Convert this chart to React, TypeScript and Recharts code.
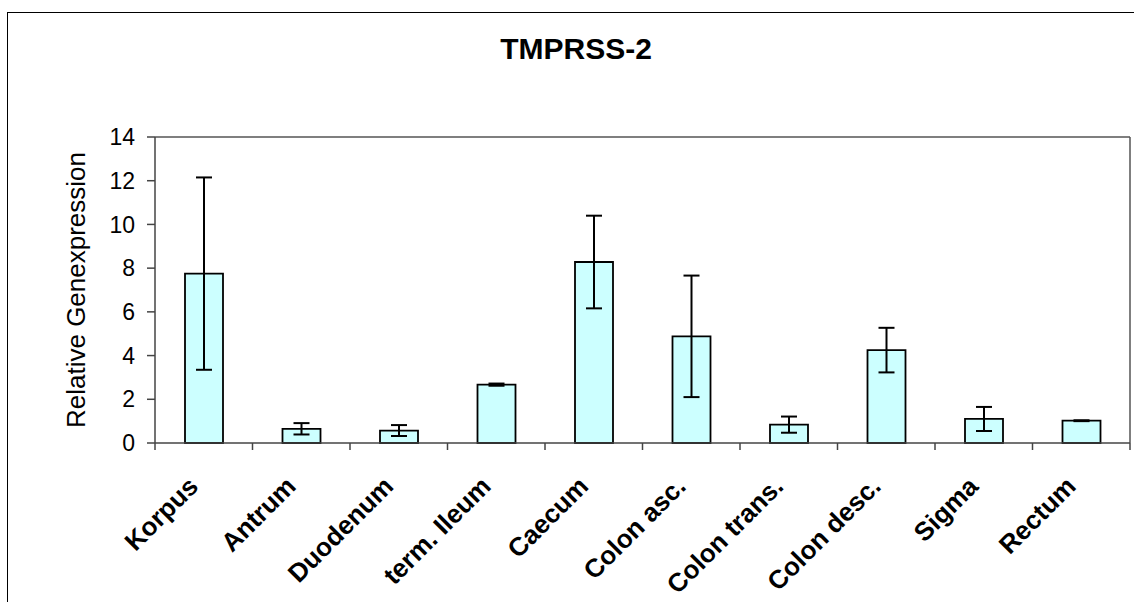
import React from "react"
import { Bar, BarChart, ErrorBar, XAxis, YAxis, Label, ReferenceLine } from "recharts"

// TMPRSS-2 expression along the GI tract (mean +/- error)

const categories = [
  "Korpus",
  "Antrum",
  "Duodenum",
  "term. Ileum",
  "Caecum",
  "Colon asc.",
  "Colon trans.",
  "Colon desc.",
  "Sigma",
  "Rectum",
]
const expression = [7.75, 0.65, 0.57, 2.67, 8.28, 4.88, 0.84, 4.25, 1.1, 1.02]
const errors = [4.4, 0.26, 0.25, 0.05, 2.12, 2.78, 0.37, 1.02, 0.55, 0.02]
const yTicks = [0, 2, 4, 6, 8, 10, 12, 14]

const data = categories.map((name, i) => ({ name, value: expression[i], err: errors[i] }))

const W = 1134
const H = 602
const margin = { top: 137, right: 4, bottom: 0, left: 0 }
const xAxisHeight = 159
const yAxisWidth = 155
const plotBottom = H - margin.bottom - xAxisHeight
const bandWidth = (W - margin.left - margin.right - yAxisWidth) / categories.length
const font = "'Liberation Sans', Arial, Helvetica, sans-serif"

function CategoryTick({ x, payload, index }: any) {
  const ax = x - 4
  const ay = plotBottom + 45
  return (
    <g>
      <line x1={x - bandWidth / 2} y1={plotBottom} x2={x - bandWidth / 2} y2={plotBottom + 7} stroke="#444" strokeWidth={1.5} />
      {index === categories.length - 1 && (
        <line x1={x + bandWidth / 2} y1={plotBottom} x2={x + bandWidth / 2} y2={plotBottom + 7} stroke="#444" strokeWidth={1.5} />
      )}
      <text
        x={ax}
        y={ay}
        transform={`rotate(-45, ${ax}, ${ay})`}
        textAnchor="end"
        fontFamily={font}
        fontWeight="bold"
        fontSize={26}
        fill="#000"
      >
        {payload.value}
      </text>
    </g>
  )
}

function YLabel() {
  const cx = 85
  const cy = (margin.top + plotBottom) / 2
  return (
    <text
      x={cx}
      y={cy}
      transform={`rotate(-90, ${cx}, ${cy})`}
      textAnchor="middle"
      fontFamily={font}
      fontSize={26}
      fill="#000"
    >
      Relative Genexpression
    </text>
  )
}

export default function App() {
  return (
    <div style={{ position: "absolute", left: 0, top: 0, width: W, height: H, overflow: "hidden", background: "#fff" }}>
      <div
        style={{
          position: "absolute",
          left: 7,
          top: 12,
          width: W,
          height: H,
          borderLeft: "1.5px solid #000",
          borderTop: "1.5px solid #000",
        }}
      />
      <div
        style={{
          position: "absolute",
          left: 576,
          top: 32,
          transform: "translateX(-50%)",
          fontFamily: font,
          fontWeight: "bold",
          fontSize: 30,
          lineHeight: "34px",
          whiteSpace: "nowrap",
          color: "#000",
        }}
      >
        TMPRSS-2
      </div>
      <div style={{ position: "absolute", left: 0, top: 0 }}>
        <BarChart width={W} height={H} data={data} margin={margin} barSize={38}>
          <XAxis
            dataKey="name"
            interval={0}
            height={xAxisHeight}
            tickLine={false}
            axisLine={{ stroke: "#444", strokeWidth: 1.5 }}
            tick={<CategoryTick />}
          />
          <YAxis
            width={yAxisWidth}
            domain={[0, 14]}
            ticks={yTicks}
            interval={0}
            tickSize={8}
            tickMargin={12}
            axisLine={{ stroke: "#444", strokeWidth: 1.5 }}
            tickLine={{ stroke: "#444", strokeWidth: 1.5 }}
            tick={{ fontFamily: font, fontSize: 23, fill: "#000" }}
          >
            <Label content={<YLabel />} />
          </YAxis>
          {/* plot-area frame: top and right edges */}
          <ReferenceLine y={14} stroke="#555" strokeWidth={1.5} />
          <ReferenceLine x="Rectum" position="end" stroke="#555" strokeWidth={1.5} />
          <Bar dataKey="value" fill="#CCFFFF" stroke="#000" strokeWidth={1.8} isAnimationActive={false}>
            <ErrorBar dataKey="err" width={8} stroke="#000" strokeWidth={2} isAnimationActive={false} />
          </Bar>
        </BarChart>
      </div>
    </div>
  )
}
